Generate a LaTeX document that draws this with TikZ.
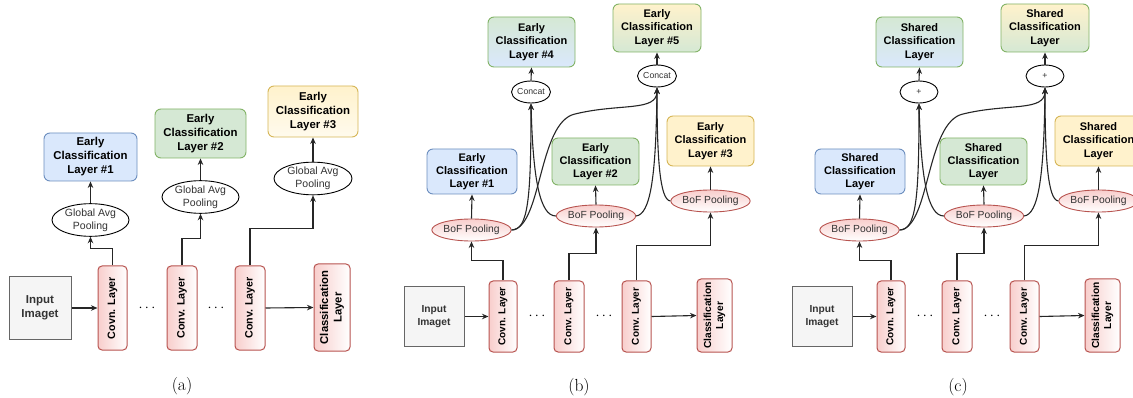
\documentclass[tikz,border=0pt]{standalone}
\usepackage{fontspec}
\newfontfamily\dfont{Liberation Sans}
\usetikzlibrary{arrows.meta,shapes.geometric}
\definecolor{cInF}{HTML}{F5F5F5}
\definecolor{cInD}{HTML}{666666}
\definecolor{cTxt}{HTML}{333333}
\definecolor{cRedF}{HTML}{F8CECC}
\definecolor{cRedD}{HTML}{B85450}
\definecolor{cBlueF}{HTML}{DAE8FC}
\definecolor{cBlueD}{HTML}{6C8EBF}
\definecolor{cGreenF}{HTML}{D5E8D4}
\definecolor{cGreenD}{HTML}{82B366}
\definecolor{cYelF}{HTML}{FFF2CC}
\definecolor{cYelD}{HTML}{D6B656}
\newcommand{\fsz}[2]{\fontsize{#1}{#2}\selectfont}
\tikzset{
  inbox/.style={draw=cInD, fill=cInF, line width=1pt, text=cTxt, align=center, inner sep=0pt},
  convbox/.style={draw=cRedD, left color=cRedF, right color=white, rounded corners=4pt, line width=1pt, inner sep=0pt},
  convtxt/.style={rotate=90, align=center, inner sep=0pt, text=black},
  ebox/.style={rounded corners=6pt, line width=0.9pt, align=center, inner sep=0pt, text=black},
  eblue/.style={ebox, draw=cBlueD, fill=cBlueF},
  egreen/.style={ebox, draw=cGreenD, fill=cGreenF},
  eyel/.style={ebox, draw=cYelD, fill=cYelF},
  egb/.style={ebox, draw=cGreenD, top color=cGreenF, bottom color=cBlueF},
  eyg/.style={ebox, draw=cGreenD, top color=cYelF, bottom color=cGreenF},
  plainell/.style={ellipse, draw=black, fill=white, line width=0.9pt, inner sep=0pt, text=cTxt, align=center},
  bofell/.style={ellipse, draw=cRedD, top color=cRedF, bottom color=white, line width=0.9pt, inner sep=0pt, text=cTxt, align=center},
  arr/.style={-{Stealth[length=6.5pt,width=5.5pt]}, line width=1.1pt, draw=black!85},
  dotstxt/.style={inner sep=0pt, font=\fsz{15}{15}},
  capt/.style={inner sep=0pt, font=\fsz{17.5}{20}}
}
\newcommand{\bcpanel}[8]{%
\begin{scope}[xshift=#2]
  \node[inbox, minimum width=60, minimum height=59, font=\dfont\bfseries\fsz{10.2}{12.5}] (in#1) at (434,316.5) {Input\\Imaget};
  \node[convbox, minimum width=28, minimum height=71] (c1#1) at (503,316.5) {};
  \node[convtxt, font=\dfont\bfseries\fsz{10}{12}] (t1#1) at (c1#1) {Covn. Layer};
  \node[convbox, minimum width=30, minimum height=71] (c2#1) at (569,316.5) {};
  \node[convtxt, font=\dfont\bfseries\fsz{10}{12}] (t2#1) at (c2#1) {Conv. Layer};
  \node[convbox, minimum width=29, minimum height=71] (c3#1) at (636.5,316.5) {};
  \node[convtxt, font=\dfont\bfseries\fsz{10}{12}] (t3#1) at (c3#1) {Conv. Layer};
  \node[convbox, minimum width=35, minimum height=73] (cl#1) at (714.5,315.5) {};
  \node[convtxt, font=\dfont\bfseries\fsz{10.2}{12}] (tl#1) at (cl#1) {Classification\\Layer};
  \node[dotstxt] (d1#1) at (537,316) {$\cdots$};
  \node[dotstxt] (d2#1) at (604,316) {$\cdots$};
  \node[bofell, minimum width=75, minimum height=22, font=\dfont\fsz{10.3}{12}] (b1#1) at (471.5,230) {BoF Pooling};
  \node[bofell, minimum width=75, minimum height=22, font=\dfont\fsz{10.3}{12}] (b2#1) at (596,216) {BoF Pooling};
  \node[bofell, minimum width=75, minimum height=22, font=\dfont\fsz{10.3}{12}] (b3#1) at (710.5,201) {BoF Pooling};
  \node[eblue, minimum width=90, minimum height=45, font=\dfont\bfseries\fsz{11}{13.2}] (e1#1) at (472,171.5) {#3};
  \node[egreen, minimum width=87, minimum height=47, font=\dfont\bfseries\fsz{11}{13.2}] (e2#1) at (595.5,161.5) {#4};
  \node[eyel, minimum width=87, minimum height=50, font=\dfont\bfseries\fsz{11}{13.2}] (e3#1) at (710.5,141) {#5};
  \node[egb, minimum width=87, minimum height=50, font=\dfont\bfseries\fsz{11}{13.2}] (e4#1) at (531.5,42) {#6};
  \node[eyg, minimum width=88, minimum height=48, font=\dfont\bfseries\fsz{11}{13.2}] (e5#1) at (657,28) {#7};
  \node[plainell, minimum width=38, minimum height=22, font=\dfont\fsz{8.7}{10}] (k1#1) at (531,92) {#8};
  \node[plainell, minimum width=38, minimum height=22, font=\dfont\fsz{8.7}{10}] (k2#1) at (657,76) {#8};
  \draw[arr] (in#1.east) -- (c1#1.west);
  \draw[arr] (c3#1.east) -- (cl#1.west);
  \draw[arr] (c1#1.north) -- ++(0,-20) -| (b1#1.south);
  \draw[arr] (c2#1.north) -- ++(0,-27) -| (b2#1.south);
  \draw[arr] (c3#1.north) -- ++(0,-35) -| (b3#1.south);
  \draw[arr] (b1#1.north) -- (e1#1.south);
  \draw[arr] (b2#1.north) -- (e2#1.south);
  \draw[arr] (b3#1.north) -- (e3#1.south);
  \draw[arr] (k1#1.north) -- (e4#1.south);
  \draw[arr] (k2#1.north) -- (e5#1.south);
  \draw[arr] (b1#1.east) .. controls (528,230) and (531,200) .. (k1#1.south);
  \draw[arr] (b1#1.east) .. controls (542,228) and (538,122) .. (575,114) .. controls (620,103) and (657,112) .. (k2#1.south);
  \draw[arr] (b2#1.west) .. controls (540,216) and (533,180) .. (k1#1.south);
  \draw[arr] (b2#1.east) .. controls (650,214) and (656,180) .. (k2#1.south);
  \draw[arr] (b3#1.west) .. controls (660,200) and (657,160) .. (k2#1.south);
\end{scope}}
\begin{document}
\begin{tikzpicture}[x=1pt,y=-1pt]
\clip (0,0) rectangle (1133,398);
\fill[white] (0,0) rectangle (1133,398);
% ---------- panel (a)
\node[inbox, minimum width=62, minimum height=62, font=\dfont\bfseries\fsz{11.5}{14}] (inA) at (40,308) {Input\\Imaget};
\node[convbox, minimum width=29, minimum height=84] (c1A) at (112.5,308) {};
\node[convtxt, font=\dfont\bfseries\fsz{10.7}{13}] (t1A) at (c1A) {Covn. Layer};
\node[convbox, minimum width=30, minimum height=84] (c2A) at (182,308) {};
\node[convtxt, font=\dfont\bfseries\fsz{10.7}{13}] (t2A) at (c2A) {Conv. Layer};
\node[convbox, minimum width=30, minimum height=84] (c3A) at (250,308) {};
\node[convtxt, font=\dfont\bfseries\fsz{10.7}{13}] (t3A) at (c3A) {Conv. Layer};
\node[convbox, minimum width=36, minimum height=87] (clA) at (332,307.5) {};
\node[convtxt, font=\dfont\bfseries\fsz{11.3}{13.5}] (tlA) at (clA) {Classification\\Layer};
\node[dotstxt] (d1A) at (147,308) {$\cdots$};
\node[dotstxt] (d2A) at (216,308) {$\cdots$};
\node[eblue, minimum width=93, minimum height=48, font=\dfont\bfseries\fsz{11.4}{14}] (e1A) at (90.5,157) {Early\\Classification\\Layer \#1};
\node[egreen, minimum width=91, minimum height=49, font=\dfont\bfseries\fsz{11.4}{14}] (e2A) at (200.5,133.5) {Early\\Classification\\Layer \#2};
\node[ebox, draw=cYelD, top color=cYelF, bottom color=cYelF!35!white, minimum width=90, minimum height=51, font=\dfont\bfseries\fsz{11.4}{14}] (e3A) at (313,111.5) {Early\\Classification\\Layer \#3};
\node[plainell, minimum width=77, minimum height=27, font=\dfont\fsz{10.5}{13.3}] (g1A) at (90.5,220) {Global Avg\\Pooling};
\node[plainell, minimum width=77, minimum height=30, font=\dfont\fsz{10.5}{13.3}] (g2A) at (200.5,197) {Global Avg\\Pooling};
\node[plainell, minimum width=78, minimum height=32, font=\dfont\fsz{10.5}{13.3}] (g3A) at (313,178.5) {Global Avg\\Pooling};
\draw[arr] (inA.east) -- (c1A.west);
\draw[arr] (c3A.east) -- (clA.west);
\draw[arr] (c1A.north) -- ++(0,-17) -| (g1A.south);
\draw[arr] (c2A.north) -- ++(0,-27) -| (g2A.south);
\draw[arr] (c3A.north) -- ++(0,-37) -| (g3A.south);
\draw[arr] (g1A.north) -- (e1A.south);
\draw[arr] (g2A.north) -- (e2A.south);
\draw[arr] (g3A.north) -- (e3A.south);
% ---------- panels (b) and (c)
\bcpanel{B}{0pt}{Early\\Classification\\Layer \#1}{Early\\Classification\\Layer \#2}{Early\\Classification\\Layer \#3}{Early\\Classification\\Layer \#4}{Early\\Classification\\Layer \#5}{Concat}
\bcpanel{C}{388pt}{Shared\\Classification\\Layer}{Shared\\Classification\\Layer}{Shared\\Classification\\Layer}{Shared\\Classification\\Layer}{Shared\\Classification\\Layer}{+}
% ---------- captions
\node[capt] (capA) at (182,386) {(a)};
\node[capt] (capB) at (579,387) {(b)};
\node[capt] (capC) at (958,387) {(c)};
\end{tikzpicture}
\end{document}
